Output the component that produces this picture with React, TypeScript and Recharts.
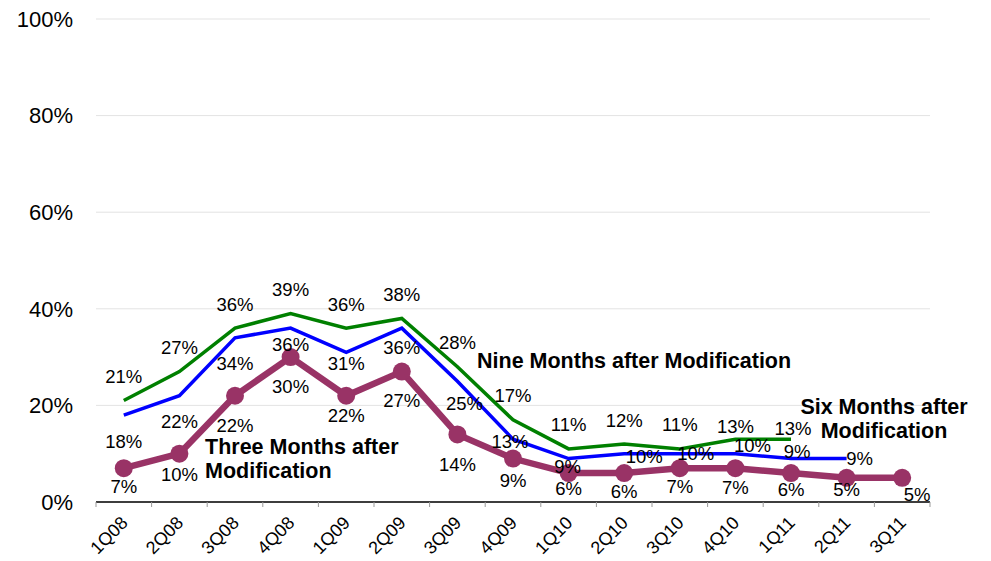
import React from 'react';
import { LineChart, Line, XAxis, YAxis, CartesianGrid } from 'recharts';

const quarters = ['1Q08', '2Q08', '3Q08', '4Q08', '1Q09', '2Q09', '3Q09', '4Q09', '1Q10', '2Q10', '3Q10', '4Q10', '1Q11', '2Q11', '3Q11'];
const nineMonths = [21, 27, 36, 39, 36, 38, 28, 17, 11, 12, 11, 13, 13, null, null];
const sixMonths = [18, 22, 34, 36, 31, 36, 25, 13, 9, 10, 10, 10, 9, 9, null];
const threeMonths = [7, 10, 22, 30, 22, 27, 14, 9, 6, 6, 7, 7, 6, 5, 5];
const yTicks = [0, 20, 40, 60, 80, 100];

const chartData = quarters.map((q, i) => ({
  quarter: q,
  nine: nineMonths[i],
  six: sixMonths[i],
  three: threeMonths[i],
}));

const FONT = '"Liberation Sans", Arial, sans-serif';
const BAND = (930 - 96) / quarters.length;

// label nudges (dx, dy) per point, to sit where the original puts them
const greenOffsets: Record<number, [number, number]> = { 11: [0, -13], 12: [2, -11] };
const blueOffsets: Record<number, [number, number]> = {
  3: [0, 16], 4: [0, 11], 5: [0, 19], 6: [7, 22], 7: [-3, 2], 8: [-1, 8],
  9: [20, 3], 10: [16, 0], 11: [17, -8], 12: [6, -7], 13: [13, 0],
};
const purpleOffsets: Record<number, [number, number]> = {
  0: [0, 18], 1: [0, 21], 2: [0, 30], 3: [0, 29], 4: [0, 20], 5: [0, 29], 6: [0, 30],
  7: [0, 22], 8: [0, 15], 9: [0, 18], 10: [0, 18], 11: [0, 19], 12: [0, 16], 13: [0, 12], 14: [15, 17],
};

const makeLabel = (offsets: Record<number, [number, number]>, def: [number, number]) => (props: any) => {
  const { x, y, value, index } = props;
  if (value == null || x == null || y == null) return null;
  const [dx, dy] = offsets[index] ?? def;
  return (
    <text
      key={`lbl-${index}`}
      x={x + dx}
      y={y + dy}
      textAnchor="middle"
      dominantBaseline="central"
      fontSize={18.5}
      fontFamily={FONT}
      fill="#000"
    >
      {value}%
    </text>
  );
};

const QuarterTick = (props: any) => {
  const { x, y, payload, index } = props;
  return (
    <g>
      <line x1={x - BAND / 2} x2={x - BAND / 2} y1={y} y2={y + 5} stroke="#999" />
      {index === quarters.length - 1 && (
        <line x1={x + BAND / 2} x2={x + BAND / 2} y1={y} y2={y + 5} stroke="#999" />
      )}
      <text
        x={x + 5}
        y={y + 22}
        transform={`rotate(-45, ${x + 5}, ${y + 22})`}
        textAnchor="end"
        fontSize={18}
        fontFamily={FONT}
        fill="#000"
      >
        {payload.value}
      </text>
    </g>
  );
};

const noteStyle: React.CSSProperties = {
  position: 'absolute',
  fontFamily: FONT,
  fontWeight: 'bold',
  fontSize: 21.5,
  color: '#000',
  lineHeight: '24px',
  whiteSpace: 'nowrap',
};

export default function App() {
  return (
    <div style={{ position: 'absolute', left: 0, top: 0, width: 991, height: 561, background: '#fff' }}>
      <LineChart
        width={991}
        height={561}
        data={chartData}
        margin={{ top: 19, right: 61, bottom: 0, left: 0 }}
      >
        <CartesianGrid vertical={false} stroke="#e3e3e3" />
        <XAxis
          dataKey="quarter"
          interval={0}
          height={59}
          padding={{ left: BAND / 2, right: BAND / 2 }}
          tickLine={false}
          tickSize={0}
          tickMargin={0}
          axisLine={{ stroke: '#000', strokeWidth: 1.5 }}
          tick={<QuarterTick />}
        />
        <YAxis
          width={96}
          domain={[0, 100]}
          ticks={yTicks}
          tickFormatter={(v: number) => `${v}%`}
          axisLine={false}
          tickLine={false}
          tickSize={0}
          tickMargin={23}
          tick={{ fontSize: 22, fontFamily: FONT, fill: '#000' }}
        />
        <Line
          dataKey="nine"
          stroke="#008000"
          strokeWidth={3.5}
          dot={false}
          activeDot={false}
          isAnimationActive={false}
          label={makeLabel(greenOffsets, [0, -24])}
        />
        <Line
          dataKey="six"
          stroke="#0000ff"
          strokeWidth={3.5}
          dot={false}
          activeDot={false}
          isAnimationActive={false}
          label={makeLabel(blueOffsets, [0, 26])}
        />
        <Line
          dataKey="three"
          stroke="#993366"
          strokeWidth={6.5}
          dot={{ r: 9, fill: '#993366', stroke: 'none' }}
          activeDot={false}
          isAnimationActive={false}
          label={makeLabel(purpleOffsets, [0, 25])}
        />
      </LineChart>
      <div style={{ ...noteStyle, left: 205, top: 435 }}>
        Three Months after
        <br />
        Modification
      </div>
      <div style={{ ...noteStyle, left: 477, top: 349 }}>Nine Months after Modification</div>
      <div style={{ ...noteStyle, left: 784, width: 200, top: 395, textAlign: 'center' }}>
        Six Months after
        <br />
        Modification
      </div>
    </div>
  );
}
